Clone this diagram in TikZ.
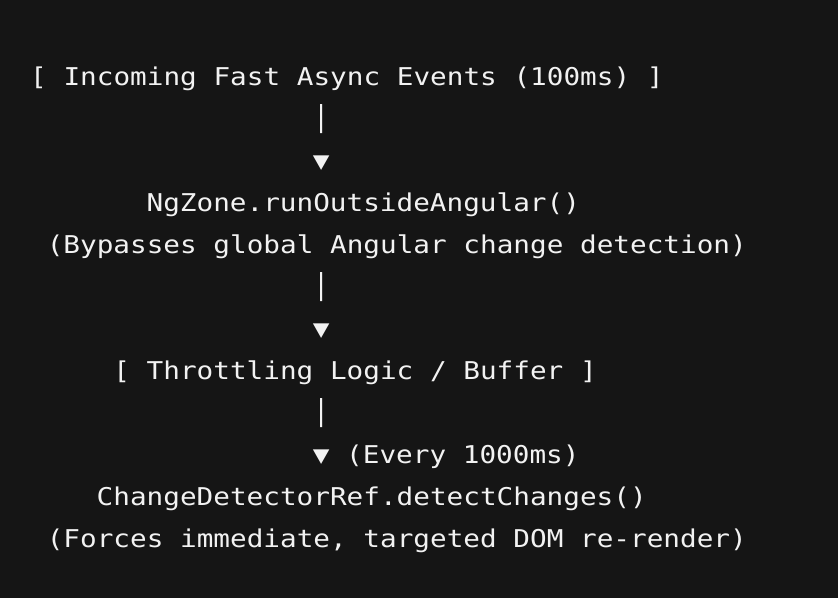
\documentclass[tikz,border=0pt]{standalone}
\usepackage{fontspec}
\setmonofont{DejaVu Sans Mono}[FakeStretch=1.13]
\definecolor{bg}{HTML}{151515}
\definecolor{fg}{HTML}{F2F2F2}
\tikzset{
  line/.style={anchor=base west, inner sep=0pt, text=fg,
    font=\ttfamily\fontsize{24.5}{29}\selectfont},
}
\def\cw{16.63pt}
\begin{document}
\begin{tikzpicture}
      \fill[bg] (0pt,0pt) rectangle (838pt,-598pt);
      \useasboundingbox (0pt,0pt) rectangle (838pt,-598pt);
      \path
        ({30pt+0*\cw},-85pt) node[line] (src){[ Incoming Fast Async Events (100ms) ]}
        ({30pt+17*\cw},-127pt) node[line] (bar1){│}
        ({30pt+17*\cw},-169pt) node[line] (tip1){▼}
        ({30pt+7*\cw},-211pt) node[line] (zone){NgZone.runOutsideAngular()}
        ({30pt+1*\cw},-253pt) node[line] (zonenote){(Bypasses global Angular change detection)}
        ({30pt+17*\cw},-295pt) node[line] (bar2){│}
        ({30pt+17*\cw},-337pt) node[line] (tip2){▼}
        ({30pt+5*\cw},-379pt) node[line] (buf){[ Throttling Logic / Buffer ]}
        ({30pt+17*\cw},-421pt) node[line] (bar3){│}
        ({30pt+17*\cw},-463pt) node[line] (tip3){▼ (Every 1000ms)}
        ({30pt+4*\cw},-505pt) node[line] (cd){ChangeDetectorRef.detectChanges()}
        ({30pt+1*\cw},-547pt) node[line] (cdnote){(Forces immediate, targeted DOM re-render)};
    \end{tikzpicture}
\end{document}
